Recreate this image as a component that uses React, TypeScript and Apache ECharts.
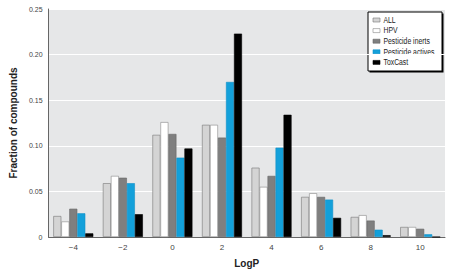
import React, { useEffect, useRef } from "react";
import * as echarts from "echarts";

const categories = ["\u22124", "\u22122", "0", "2", "4", "6", "8", "10"];
const seriesNames = ["ALL", "HPV", "Pesticide inerts", "Pesticide actives", "ToxCast"];
const allValues = [0.023, 0.059, 0.112, 0.123, 0.076, 0.044, 0.022, 0.011];
const hpvValues = [0.017, 0.067, 0.126, 0.123, 0.055, 0.048, 0.024, 0.011];
const inertValues = [0.031, 0.065, 0.113, 0.109, 0.067, 0.044, 0.018, 0.009];
const activeValues = [0.026, 0.059, 0.087, 0.170, 0.098, 0.041, 0.008, 0.003];
const toxcastValues = [0.004, 0.025, 0.097, 0.223, 0.134, 0.021, 0.002, 0];
const seriesValues = [allValues, hpvValues, inertValues, activeValues, toxcastValues];

const fills = ["#d4d4d4", "#ffffff", "#7f7f7f", "#13a0da", "#000000"];
const borders = ["#777777", "#888888", "#666666", "#1090c8", "#000000"];

const FONT = "'Liberation Sans', Arial, sans-serif";

export default function App() {
  const ref = useRef<HTMLDivElement>(null);
  useEffect(() => {
    const chart = echarts.init(ref.current!, null, { renderer: "svg" });

    const legendX = 368;
    const legendY = 12;
    const legendW = 74;
    const legendH = 59;
    const rowGap = 10.6;
    const legendChildren: any[] = [
      { type: "rect", shape: { x: legendX + 1.5, y: legendY + 1.5, width: legendW, height: legendH }, style: { fill: "#000" } },
      { type: "rect", shape: { x: legendX, y: legendY, width: legendW, height: legendH }, style: { fill: "#fff", stroke: "#000", lineWidth: 1 } },
    ];
    seriesNames.forEach((name, i) => {
      const cy = legendY + 8 + i * rowGap;
      legendChildren.push({
        type: "rect",
        shape: { x: legendX + 5, y: cy - 2, width: 7, height: 4 },
        style: { fill: fills[i], stroke: borders[i], lineWidth: 0.6 },
      });
      legendChildren.push({
        type: "text",
        x: legendX + 15.5,
        y: cy,
        scaleX: 0.76,
        style: { text: name, font: `9px ${FONT}`, fill: "#222", verticalAlign: "middle", align: "left" },
      });
    });

    chart.setOption({
      animation: false,
      textStyle: { fontFamily: FONT },
      grid: {
        left: 43,
        right: 6,
        top: 9,
        bottom: 33,
        show: true,
        backgroundColor: "#e6e7e8",
        borderWidth: 0,
      },
      graphic: [{ type: "group", z: 100, children: legendChildren }],
      xAxis: {
        type: "category",
        data: categories,
        name: "LogP",
        nameLocation: "middle",
        nameGap: 21,
        nameTextStyle: { fontSize: 10, fontWeight: "bold", color: "#222", fontFamily: FONT },
        axisLine: { lineStyle: { color: "#666", width: 1 } },
        axisTick: { show: false },
        axisLabel: { fontSize: 8, color: "#444", margin: 6 },
      },
      yAxis: {
        type: "value",
        min: 0,
        max: 0.25,
        interval: 0.05,
        name: "Fraction of compounds",
        nameLocation: "middle",
        nameGap: 28,
        nameTextStyle: { fontSize: 10, fontWeight: "bold", color: "#222", fontFamily: FONT },
        axisLine: { show: true, lineStyle: { color: "#666", width: 1 } },
        axisTick: { show: false },
        axisLabel: {
          fontSize: 7,
          color: "#444",
          margin: 6,
          formatter: (v: number) => (v === 0 ? "0" : v.toFixed(2)),
        },
        splitLine: { show: true, lineStyle: { color: "#ffffff", width: 1 } },
      },
      series: seriesNames.map((name, i) => ({
        name,
        type: "bar",
        data: seriesValues[i],
        barWidth: 8,
        barGap: "0%",
        itemStyle: { color: fills[i], borderColor: borders[i], borderWidth: 0.6 },
      })),
    });
    return () => chart.dispose();
  }, []);
  return <div ref={ref} style={{ width: 451, height: 273, position: "absolute", left: 0, top: 0 }} />;
}
